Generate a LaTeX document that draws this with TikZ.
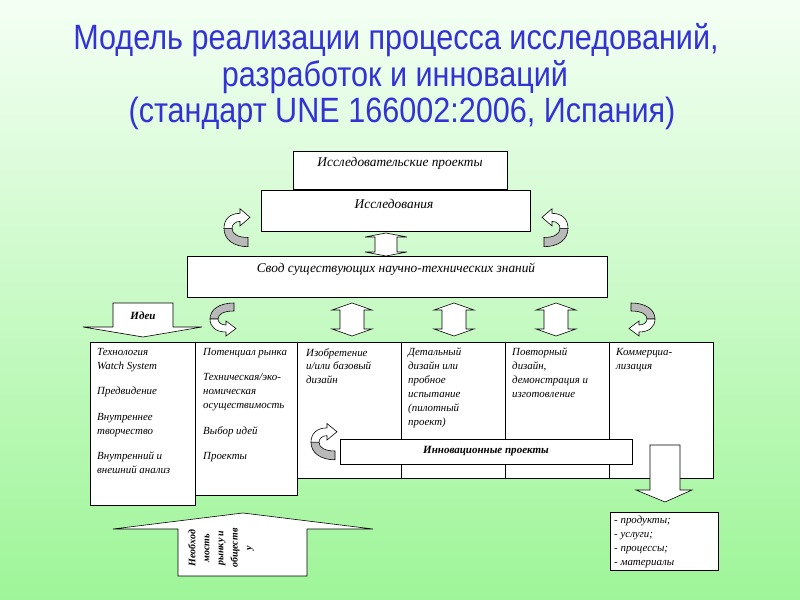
\documentclass[tikz,border=0pt]{standalone}
\usepackage{fontspec}
\setmainfont{Liberation Serif}
\newfontfamily\titlefont[FakeStretch=0.87]{Liberation Sans}
\definecolor{bgtop}{RGB}{244,255,244}
\definecolor{bgbot}{RGB}{158,245,152}
\definecolor{titleblue}{RGB}{50,50,215}
\tikzset{
  box/.style={draw=black, fill=white, line width=0.6pt},
  blk/.style={draw=black, fill=white, line width=0.5pt, line join=miter},
  titletext/.style={font=\titlefont\fontsize{30}{34}\selectfont, text=titleblue, inner sep=0},
  boxtext/.style={font=\fontsize{11.4}{13}\selectfont\itshape, inner sep=0},
  coltext/.style={anchor=north west, inner sep=0, align=left, font=\fontsize{9.3}{11.8}\selectfont\itshape},
  boldtext/.style={font=\fontsize{9.4}{11}\selectfont\bfseries\itshape, inner sep=0},
}
\newcommand{\curvarr}[3]{%
  \begin{scope}[shift={(#1)}, xscale=#2, yscale=#3, line width=0.5pt]
    \filldraw[fill=gray!55] (12,18) .. controls (-2,18) and (-12,12) .. (-12,2) -- (-4,2) .. controls (-4,7) and (2,10) .. (12,10) -- cycle;
    \filldraw[fill=white] (-12,2) .. controls (-12,-6) and (-6,-11) .. (4,-11) -- (4,-15) -- (14,-7.5) -- (4,0) -- (4,-4) .. controls (-1,-4) and (-4,-1) .. (-4,2) -- cycle;
  \end{scope}}
\newcommand{\dblarr}[6]{%
  \filldraw[blk] (#1,#2) -- (#1+#4,#2+#6) -- (#1+#5,#2+#6) -- (#1+#5,#3-#6) -- (#1+#4,#3-#6) -- (#1,#3) -- (#1-#4,#3-#6) -- (#1-#5,#3-#6) -- (#1-#5,#2+#6) -- (#1-#4,#2+#6) -- cycle;}
\begin{document}
\begin{tikzpicture}[x=0.03cm, y=-0.03cm]
\useasboundingbox (0,0) rectangle (800,600);
\shade[top color=bgtop, bottom color=bgbot] (0,0) rectangle (800,600);

% title
\node[titletext] (title1) at (396,40) {Модель реализации процесса исследований,};
\node[titletext] (title2) at (395,77) {разработок и инноваций};
\node[titletext] (title3) at (402,113) {(стандарт UNE 166002:2006, Испания)};

% pyramid
\filldraw[box] (293,151) rectangle (507,189);
\node[boxtext] (rp) at (400,163) {Исследовательские проекты};
\filldraw[box] (261,190) rectangle (530,231);
\node[boxtext] (res) at (394,204) {Исследования};
\dblarr{386}{233}{256}{21}{11}{4}
\filldraw[box] (187,256) rectangle (607,297);
\node[boxtext] (know) at (396,269) {Свод существующих научно-технических знаний};

\curvarr{236,226}{1}{1.15}
\curvarr{556,226}{-1}{1.15}
\curvarr{222,321}{1}{-1.0}
\curvarr{643,321}{-1}{-1.0}

\dblarr{352}{303}{336}{20}{12}{7}
\dblarr{454}{303}{336}{20}{12}{7}
\dblarr{556}{303}{336}{20}{12}{7}

% ideas arrow
\filldraw[blk] (113,303) -- (173,303) -- (173,327) -- (202,327) -- (143,337) -- (83,327) -- (113,327) -- cycle;
\node[boldtext] (ideas) at (143,316) {Идеи};

% phase columns
\filldraw[box] (90,342) rectangle (195,505);
\filldraw[box] (195,342) rectangle (297,495);
\filldraw[box] (297,342) rectangle (713,478);
\draw[line width=0.6pt] (401,342) -- (401,478) (505,342) -- (505,478) (609,342) -- (609,478);

\node[coltext] (c1) at (97,348) {Технология\\Watch System\\[10pt]Предвидение\\[10pt]Внутреннее\\творчество\\[10pt]Внутренний и\\внешний анализ};
\node[coltext] (c2) at (203,348) {Потенциал рынка\\[10pt]Техническая/эко-\\номическая\\осуществимость\\[10pt]Выбор идей\\[10pt]Проекты};
\node[coltext] (c3) at (306,348) {Изобретение\\и/или базовый\\дизайн};
\node[coltext] (c4) at (408,348) {Детальный\\дизайн или\\пробное\\испытание\\(пилотный\\проект)};
\node[coltext] (c5) at (512,348) {Повторный\\дизайн,\\демонстрация и\\изготовление};
\node[coltext] (c6) at (616,348) {Коммерциа-\\лизация};

\filldraw[box] (340,439) rectangle (632,464);
\node[boldtext] (innov) at (486,451) {Инновационные проекты};
\curvarr{323,440}{1}{1.1}

% output arrow
\filldraw[blk] (650,445) -- (680,445) -- (680,490) -- (692,490) -- (665,502) -- (636,490) -- (650,490) -- cycle;
\filldraw[box] (610,512) rectangle (718,570);
\node[coltext] (prod) at (614,516) {- продукты;\\- услуги;\\- процессы;\\- материалы};

% need arrow
\filldraw[blk] (178,576) -- (178,529) -- (113,529) -- (243,513) -- (373,529) -- (307,529) -- (307,576) -- cycle;
\node[boldtext, rotate=90, align=center, font=\fontsize{8.5}{12}\selectfont\bfseries\itshape] (need) at (221,548) {Необход\\мость\\рынку и\\обществ\\у};
\end{tikzpicture}
\end{document}
